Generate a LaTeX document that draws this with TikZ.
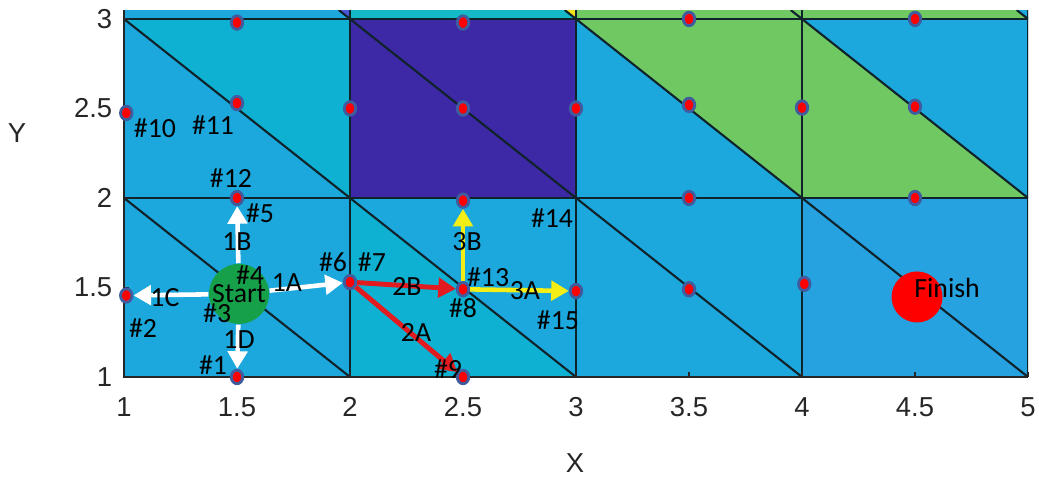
\documentclass[tikz,border=0pt]{standalone}
\usepackage{fontspec}
\newfontfamily\labfont{Carlito}
\newfontfamily\axfont{Liberation Sans}
\usetikzlibrary{arrows.meta,shapes.geometric}
\definecolor{cblue}{HTML}{1CA8DD}
\definecolor{ccyan}{HTML}{0EB1D1}
\definecolor{cblue2}{HTML}{26A2E0}
\definecolor{cpurple}{HTML}{3D28A6}
\definecolor{cgreen}{HTML}{70C862}
\definecolor{cteal}{HTML}{14BBC6}
\definecolor{cviolet}{HTML}{4A55D8}
\definecolor{cyellow}{HTML}{F6E01A}
\definecolor{dotedge}{HTML}{3F5C9E}
\definecolor{gridline}{HTML}{10222A}
\definecolor{axcol}{HTML}{262626}
\definecolor{startgreen}{HTML}{17A04A}
\definecolor{arrred}{HTML}{E11B1F}
\definecolor{arryellow}{HTML}{F4EE16}
\begin{document}
\begin{tikzpicture}[x=2.26cm,y=1.79cm,
  dotn/.style={ellipse, draw=dotedge, line width=0.8pt, fill=red, minimum width=0.115cm, minimum height=0.135cm, inner sep=0pt},
  labl/.style={font=\labfont\fontsize{7.9}{8}\selectfont, inner sep=0pt, text=black},
  axl/.style={font=\axfont\fontsize{7.8}{8}\selectfont, inner sep=0pt, text=axcol},
  gridl/.style={draw=gridline, line width=0.6pt},
  warr/.style={draw=white, line width=1.3pt, -{Triangle[length=5pt,width=5.5pt]}},
  rarr/.style={draw=arrred, line width=1.4pt, -{Triangle[length=5pt,width=5.5pt]}},
  yarr/.style={draw=arryellow, line width=1.3pt, -{Triangle[length=5pt,width=5.5pt]}}]
\useasboundingbox (0.4513,0.4413) rectangle (5.0487,3.1061);
\begin{scope}
\clip (1,1) rectangle (5,3.05);
% row 1
\fill[cblue] (1,1) rectangle (2,2);
\fill[ccyan] (2,2) -- (2,1) -- (3,1) -- cycle;
\fill[cblue] (2,2) -- (3,2) -- (3,1) -- cycle;
\fill[cblue] (3,1) rectangle (4,2);
\fill[cblue2] (4,1) rectangle (5,2);
% row 2
\fill[cblue] (1,3) -- (1,2) -- (2,2) -- cycle;
\fill[ccyan] (1,3) -- (2,3) -- (2,2) -- cycle;
\fill[cpurple] (2,2) rectangle (3,3);
\fill[cblue] (3,3) -- (3,2) -- (4,2) -- cycle;
\fill[cgreen] (3,3) -- (4,3) -- (4,2) -- cycle;
\fill[cgreen] (4,3) -- (4,2) -- (5,2) -- cycle;
\fill[cblue] (4,3) -- (5,3) -- (5,2) -- cycle;
% top strip
\fill[cblue] (1,3) -- (2,3) -- (1.95,3.05) -- (1,3.05) -- cycle;
\fill[cviolet] (1.95,3.05) -- (2,3.05) -- (2,3) -- cycle;
\fill[cteal] (2,3) -- (3,3) -- (2.95,3.05) -- (2,3.05) -- cycle;
\fill[cyellow] (2.95,3.05) -- (3,3.05) -- (3,3) -- cycle;
\fill[cgreen] (3,3) rectangle (4,3.05);
\fill[cgreen] (4,3) -- (5,3) -- (4.95,3.05) -- (4,3.05) -- cycle;
\fill[cblue] (4.95,3.05) -- (5,3.05) -- (5,3) -- cycle;
% grid lines
\foreach \x in {1,2,3,4,5} \draw[gridl] (\x,1) -- (\x,3.05);
\foreach \y in {1,2,3} \draw[gridl] (1,\y) -- (5,\y);
\foreach \x in {1,2,3,4} {
  \draw[gridl] (\x,2) -- (\x+1,1);
  \draw[gridl] (\x,3) -- (\x+1,2);
  \draw[gridl] (\x+0.95,3.05) -- (\x+1,3);
}
\end{scope}
% axes
\draw[axcol, line width=0.4pt] (1,3.05) -- (1,1) -- (5,1);
\foreach \y in {1,1.5,2,2.5,3} \draw[axcol, line width=0.4pt] (1,\y) -- (1.02,\y);
\foreach \x in {1,1.5,2,2.5,3,3.5,4,4.5,5} \draw[axcol, line width=0.4pt] (\x,1) -- (\x,1.028);
\foreach \x/\t in {1/1,1.5/1.5,2/2,2.5/2.5,3/3,3.5/3.5,4/4,4.5/4.5,5/5}
  \node[axl] (xt\t) at (\x,0.832) {\t};
\foreach \y/\t in {1/1,1.5/1.5,2/2,2.5/2.5,3/3}
  \node[axl, anchor=east] (yt\t) at (0.951,\y) {\t};
\node[axl] (xlab) at (2.996,0.52) {X};
\node[axl] (ylab) at (0.527,2.363) {Y};
% dots
\node[dotn] (t1) at (1.5,2.98) {};
\node[dotn] (t2) at (2.5,2.98) {};
\node[dotn] (t3) at (3.5,3.0) {};
\node[dotn] (t4) at (4.5,3.0) {};
\node[dotn] (d10) at (1.01,2.475) {};
\node[dotn] (d11) at (1.5,2.53) {};
\node[dotn] (m3) at (2,2.5) {};
\node[dotn] (m4) at (2.5,2.5) {};
\node[dotn] (m5) at (3,2.5) {};
\node[dotn] (m6) at (3.5,2.52) {};
\node[dotn] (m7) at (4,2.505) {};
\node[dotn] (m8) at (4.5,2.51) {};
\node[dotn] (d12) at (1.5,2.0) {};
\node[dotn] (d14) at (2.5,1.985) {};
\node[dotn] (u3) at (3.5,2.0) {};
\node[dotn] (u4) at (4.5,2.0) {};
\node[dotn] (d2) at (1.01,1.455) {};
\node[dotn] (d6) at (2,1.53) {};
\node[dotn] (d8) at (2.5,1.49) {};
\node[dotn] (d15) at (3,1.48) {};
\node[dotn] (l5) at (3.5,1.49) {};
\node[dotn] (l6) at (4.01,1.52) {};
\node[dotn] (d1) at (1.5,1) {};
\node[dotn] (d9) at (2.5,1) {};
% start / finish
\node[circle, fill=startgreen, minimum size=0.6cm, inner sep=0pt, labl] (start) at (1.509,1.464) {Start};
\node[circle, fill=red, minimum size=0.51cm, inner sep=0pt] (finish) at (4.509,1.447) {};
\node[labl] (finlab) at (4.642,1.497) {Finish};
% arrows
\draw[warr] (start) -- (d6);
\draw[warr] (start) -- (d12);
\draw[warr] (start) -- (d2);
\draw[warr] (start) -- (d1);
\draw[rarr] (d6) -- (d8);
\draw[rarr] (d6) -- (d9);
\draw[yarr] (d8) -- (d14);
\draw[yarr] (d8) -- (d15);
% labels
\node[labl] (l10) at (1.137,2.391) {\#10};
\node[labl] (l11) at (1.394,2.408) {\#11};
\node[labl] (l12) at (1.473,2.112) {\#12};
\node[labl] (l5n) at (1.602,1.916) {\#5};
\node[labl] (a1b) at (1.5,1.754) {1B};
\node[labl] (l4) at (1.558,1.570) {\#4};
\node[labl] (a1a) at (1.721,1.525) {1A};
\node[labl] (a1c) at (1.181,1.441) {1C};
\node[labl] (l3) at (1.412,1.358) {\#3};
\node[labl] (l2) at (1.084,1.274) {\#2};
\node[labl] (a1d) at (1.509,1.207) {1D};
\node[labl] (l1) at (1.394,1.067) {\#1};
\node[labl] (l6n) at (1.925,1.642) {\#6};
\node[labl] (l7) at (2.097,1.642) {\#7};
\node[labl] (a2b) at (2.252,1.508) {2B};
\node[labl] (a2a) at (2.292,1.246) {2A};
\node[labl] (l9) at (2.434,1.045) {\#9};
\node[labl] (l8) at (2.5,1.385) {\#8};
\node[labl] (l13) at (2.611,1.559) {\#13};
\node[labl] (a3b) at (2.518,1.754) {3B};
\node[labl] (a3a) at (2.774,1.480) {3A};
\node[labl] (l14) at (2.894,1.888) {\#14};
\node[labl] (l15) at (2.920,1.318) {\#15};
\end{tikzpicture}
\end{document}
